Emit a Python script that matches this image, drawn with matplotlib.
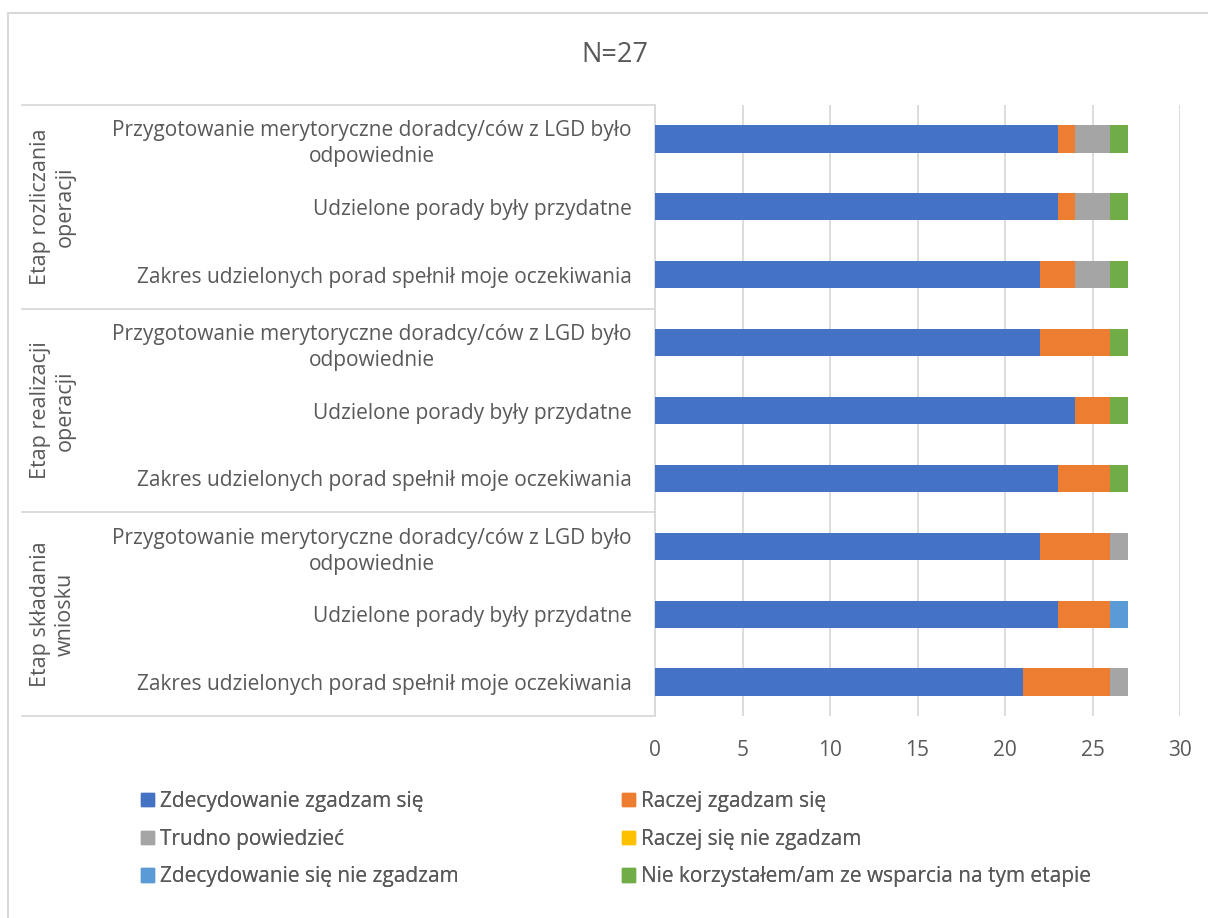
import matplotlib
matplotlib.use("Agg")
import matplotlib.pyplot as plt
import numpy as np
from matplotlib.patches import Rectangle, Patch
from matplotlib.transforms import blended_transform_factory

plt.rcParams["font.family"] = ["Open Sans", "DejaVu Sans"]

# categories, listed top to bottom as in the chart
questions = [
    "Przygotowanie merytoryczne doradcy/ców z LGD było\nodpowiednie",
    "Udzielone porady były przydatne",
    "Zakres udzielonych porad spełnił moje oczekiwania",
] * 3
groups = ["Etap rozliczania\noperacji", "Etap realizacji\noperacji", "Etap składania\nwniosku"]

series_names = [
    "Zdecydowanie zgadzam się",
    "Raczej zgadzam się",
    "Trudno powiedzieć",
    "Raczej się nie zgadzam",
    "Zdecydowanie się nie zgadzam",
    "Nie korzystałem/am ze wsparcia na tym etapie",
]
zdec_zgadzam = [23, 23, 22, 22, 24, 23, 22, 23, 21]
raczej_zgadzam = [1, 1, 2, 4, 2, 3, 4, 3, 5]
trudno = [2, 2, 2, 0, 0, 0, 1, 0, 1]
raczej_nie = [0, 0, 0, 0, 0, 0, 0, 0, 0]
zdec_nie = [0, 0, 0, 0, 0, 0, 0, 1, 0]
nie_korzystalem = [1, 1, 1, 1, 1, 1, 0, 0, 0]
series = [zdec_zgadzam, raczej_zgadzam, trudno, raczej_nie, zdec_nie, nie_korzystalem]
colors = ["#4472C4", "#ED7D31", "#A5A5A5", "#FFC000", "#5B9BD5", "#70AD47"]

title = "N=27"
xticks = [0, 5, 10, 15, 20, 25, 30]

text_color = "#595959"
grid_color = "#D9D9D9"

W, H = 1208, 918
fig = plt.figure(figsize=(W / 100, H / 100), dpi=100)
ax = fig.add_axes([655 / W, 1 - 716 / H, 525 / W, 611 / H])

y = np.arange(len(questions))
left = np.zeros(len(questions))
for name, vals, col in zip(series_names, series, colors):
    vals = np.array(vals, dtype=float)
    ax.barh(y, vals, left=left, height=0.4, color=col, label=name, zorder=3)
    left += vals

ax.set_xlim(0, 30)
ax.set_ylim(len(questions) - 0.5, -0.5)
ax.set_xticks(xticks)
ax.set_yticks(y)
ax.set_yticklabels(questions, multialignment="center", linespacing=1.3)
ax.tick_params(axis="both", length=0, labelsize=15, labelcolor=text_color)
ax.tick_params(axis="y", pad=16.6)
ax.tick_params(axis="x", pad=17.5)
ax.grid(axis="x", color=grid_color, lw=1.3, zorder=0)
for s in ["top", "right", "bottom"]:
    ax.spines[s].set_visible(False)
ax.spines["left"].set_color(grid_color)
ax.spines["left"].set_linewidth(1.3)

# group separators and group labels in the category area
trans = blended_transform_factory(ax.transAxes, ax.transData)
x0 = (22 - 655) / 525
for b in [-0.5, 2.5, 5.5, 8.5]:
    ax.plot([x0, 0], [b, b], color=grid_color, lw=1.3, transform=trans, clip_on=False)
gx = (53 - 655) / 525
for i, g in enumerate(groups):
    ax.text(gx, 3 * i + 1, g, rotation=90, ha="center", va="center", fontsize=15.5,
            color=text_color, transform=trans, multialignment="center", linespacing=1.2)

fig.text(615 / W, 1 - 55 / H, title, ha="center", va="center", fontsize=19.5, color=text_color)

# legend in row-major order like the source, one legend per column
for col_x, idx in [(141, [0, 2, 4]), (622, [1, 3, 5])]:
    handles = [Patch(color=colors[i]) for i in idx]
    labels = [series_names[i] for i in idx]
    leg = fig.legend(handles, labels, loc="upper left", bbox_to_anchor=(col_x / W, 1 - 791 / H),
                     frameon=False, fontsize=15, labelcolor=text_color, handlelength=0.62,
                     handleheight=0.62, handletextpad=0.3, labelspacing=0.8,
                     borderpad=0, borderaxespad=0)
    fig.add_artist(leg)

# outer chart border
fig.patches.append(Rectangle((8 / W, -0.1), 1.2, 1.1 - 13 / H, transform=fig.transFigure,
                             fill=False, edgecolor=grid_color, lw=1.5))

fig.savefig("out.png", dpi=100)
